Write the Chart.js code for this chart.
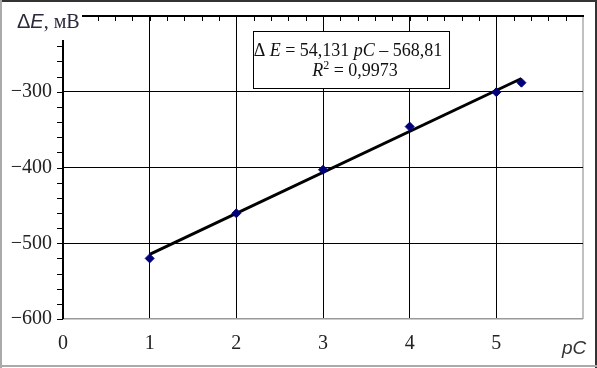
<!DOCTYPE html>
<html>
<head>
<meta charset="utf-8">
<script src="https://cdn.jsdelivr.net/npm/chart.js"></script>
<style>
body { margin: 0; background: #fff; }
#chartBox { width: 597px; height: 368px; }
</style>
</head>
<body>
<div id="chartBox"><canvas id="pcChart" width="597" height="368"></canvas></div>
<script>
// measured points: pC against delta E, mV
var pcValues = [1, 2, 3, 4, 5, 5.29];
var deltaE = [-520, -460.5, -403, -346, -300.5, -288];
// ends of the trend line as drawn
var fitX = [1, 5.29];
var fitY = [-514.7, -282.5];
// axis ticks
var xTicks = [0, 1, 2, 3, 4, 5, 6];
var yTicks = [-600, -500, -400, -300, -200];

var serif = "'Liberation Serif', 'Times New Roman', serif";
var sans = "'Liberation Sans', Arial, sans-serif";

function toPoints(xs, ys) {
	var pts = [];
	for (var i = 0; i < xs.length; i++) {
		pts.push({x: xs[i], y: ys[i]});
	}
	return pts;
}

// draws a row of differently styled text pieces, centred on cx
function drawRuns(ctx, runs, cx, baseline) {
	var total = 0;
	runs.forEach(function(r) {
		ctx.font = r.f;
		total += ctx.measureText(r.t).width;
	});
	var x = cx - total / 2;
	runs.forEach(function(r) {
		ctx.font = r.f;
		ctx.fillText(r.t, x, baseline - (r.up || 0));
		x += ctx.measureText(r.t).width;
	});
}

var extras = {
	id: 'extras',
	afterDraw: function(chart) {
		var ctx = chart.ctx;
		var xs = chart.scales.x, ys = chart.scales.y;
		var left = xs.left, right = xs.right, top = ys.top, bottom = ys.bottom;
		ctx.save();
		ctx.strokeStyle = '#000';

		// left axis and top line (cut where the axis title sits)
		ctx.lineWidth = 2;
		ctx.beginPath();
		ctx.moveTo(left, 40);
		ctx.lineTo(left, bottom);
		ctx.moveTo(82, top);
		ctx.lineTo(right + 1, top);
		ctx.stroke();

		// minor ticks
		ctx.lineWidth = 1;
		ctx.beginPath();
		for (var i = 0; i <= 20; i++) {
			var py = Math.round(ys.getPixelForValue(-600 + 20 * i)) + 0.5;
			if (py < 40) continue;
			ctx.moveTo(left - 6, py);
			ctx.lineTo(left, py);
		}
		for (var j = 0; j <= 30; j++) {
			var px = Math.round(xs.getPixelForValue(0.2 * j)) + 0.5;
			if (px < 84 || px > right - 2) continue;
			ctx.moveTo(px, top);
			ctx.lineTo(px, top + 5);
		}
		ctx.stroke();

		// axis titles
		ctx.fillStyle = '#2a2a3a';
		ctx.textAlign = 'left';
		ctx.textBaseline = 'alphabetic';
		var tx = 17;
		[{t: '\u0394', f: '20px ' + sans}, {t: 'E', f: 'italic 20px ' + sans}, {t: ', мВ', f: '20px ' + serif}].forEach(function(r) {
			ctx.font = r.f;
			ctx.fillText(r.t, tx, 28);
			tx += ctx.measureText(r.t).width;
		});
		ctx.fillStyle = '#333';
		ctx.font = 'italic 19px ' + sans;
		ctx.fillText('pC', 562, 354);

		// equation box
		ctx.fillStyle = '#fff';
		ctx.fillRect(253, 31, 197, 57);
		ctx.strokeRect(253.5, 31.5, 196, 57);
		ctx.fillStyle = '#111';
		drawRuns(ctx, [
			{t: '\u0394 ', f: '18px ' + serif},
			{t: 'E', f: 'italic 18px ' + serif},
			{t: ' = 54,131 ', f: '18px ' + serif},
			{t: 'pC', f: 'italic 18px ' + serif},
			{t: ' \u2013 568,81', f: '18px ' + serif}
		], 348, 56);
		drawRuns(ctx, [
			{t: 'R', f: 'italic 18px ' + serif},
			{t: '2', f: '12px ' + serif, up: 7},
			{t: ' = 0,9973', f: '18px ' + serif}
		], 355, 76);

		// outer frame
		ctx.lineWidth = 2;
		ctx.strokeStyle = '#333';
		ctx.beginPath();
		ctx.moveTo(0, 1);
		ctx.lineTo(597, 1);
		ctx.moveTo(596, 0);
		ctx.lineTo(596, 368);
		ctx.stroke();
		ctx.strokeStyle = '#aaa';
		ctx.beginPath();
		ctx.moveTo(1, 0);
		ctx.lineTo(1, 368);
		ctx.moveTo(0, 366);
		ctx.lineTo(597, 366);
		ctx.stroke();
		ctx.restore();
	}
};

var pcChart = new Chart(document.getElementById('pcChart'), {
	type: 'scatter',
	data: {
		datasets: [
			{
				label: 'trend',
				data: toPoints(fitX, fitY),
				showLine: true,
				borderColor: '#000',
				borderWidth: 3,
				pointRadius: 0,
				order: 2
			},
			{
				label: 'measured',
				data: toPoints(pcValues, deltaE),
				pointStyle: 'rectRot',
				pointRadius: 4.5,
				backgroundColor: '#00007a',
				borderColor: '#00007a',
				order: 1
			}
		]
	},
	options: {
		responsive: false,
		animation: false,
		devicePixelRatio: 1,
		layout: { padding: { top: 16, right: 14, left: 0, bottom: 0 } },
		plugins: { legend: { display: false }, tooltip: { enabled: false } },
		scales: {
			x: {
				type: 'linear',
				min: 0,
				max: 6,
				afterBuildTicks: function(s) { s.ticks = xTicks.map(function(v) { return {value: v}; }); },
				afterFit: function(s) { s.height = 49; s.paddingLeft = 0; s.paddingRight = 0; },
				border: { display: false },
				grid: {
					drawTicks: false,
					color: function(c) {
						var v = c.tick.value;
						if (v === 0) return 'rgba(0,0,0,0)';
						if (v === 6) return '#c0c0c0';
						return '#000';
					},
					lineWidth: function(c) { return c.tick.value === 6 ? 2 : 1; }
				},
				ticks: {
					padding: 13,
					color: '#222',
					font: { family: serif, size: 20 },
					callback: function(v) { return v === 6 ? '' : String(v); }
				}
			},
			y: {
				min: -600,
				max: -200,
				afterBuildTicks: function(s) { s.ticks = yTicks.map(function(v) { return {value: v}; }); },
				afterFit: function(s) { s.width = 63; s.paddingTop = 0; s.paddingBottom = 0; },
				border: { display: false },
				grid: {
					drawTicks: false,
					color: function(c) {
						var v = c.tick.value;
						if (v === -200) return 'rgba(0,0,0,0)';
						if (v === -600) return '#999';
						return '#000';
					},
					lineWidth: function(c) { return c.tick.value === -600 ? 1.5 : 1; }
				},
				ticks: {
					padding: 11,
					color: '#222',
					font: { family: serif, size: 20 },
					callback: function(v) { return v === -200 ? '' : '\u2212' + Math.abs(v); }
				}
			}
		}
	},
	plugins: [extras]
});
</script>
</body>
</html>
